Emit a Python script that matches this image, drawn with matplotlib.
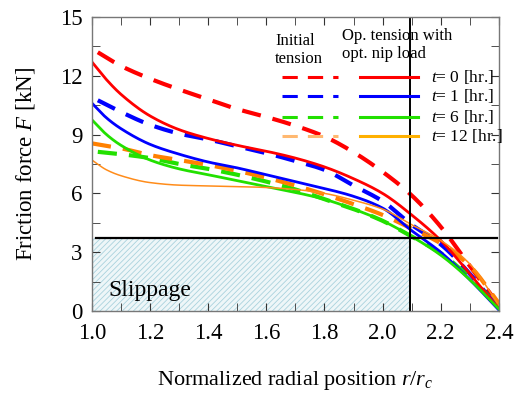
import numpy as np
import matplotlib
matplotlib.use('Agg')
import matplotlib.pyplot as plt
from matplotlib.patches import Rectangle
from matplotlib.ticker import MultipleLocator

plt.rcParams['font.family'] = ['Liberation Serif', 'DejaVu Serif']
plt.rcParams['mathtext.fontset'] = 'custom'
plt.rcParams['mathtext.it'] = 'Liberation Serif:italic'
plt.rcParams['mathtext.rm'] = 'Liberation Serif'
plt.rcParams['hatch.linewidth'] = 0.6

##################################################################
# Data
##################################################################
# initial tension (dashed)
x_init = [1.02, 1.1, 1.2, 1.3, 1.4, 1.5, 1.6, 1.7, 1.8, 1.9, 2.0, 2.1, 2.2, 2.3, 2.4]
init_t0 = [13.2, 12.5, 11.85, 11.3, 10.8, 10.3, 9.9, 9.45, 8.9, 8.1, 7.1, 5.9, 4.3, 2.3, 0.3]
init_t1 = [10.75, 10.15, 9.5, 9.05, 8.75, 8.4, 8.05, 7.65, 7.2, 6.4, 5.6, 4.4, 3.4, 1.9, 0.1]
init_t6 = [8.12, 8.0, 7.8, 7.5, 7.25, 6.95, 6.6, 6.2, 5.7, 5.2, 4.6, 3.8, 2.95, 1.7, 0.2]
x_init12 = [1.0, 1.1, 1.2, 1.3, 1.4, 1.5, 1.6, 1.7, 1.8, 1.9, 2.0, 2.1, 2.2, 2.3, 2.4]
init_t12 = [8.55, 8.3, 7.95, 7.7, 7.45, 7.15, 6.8, 6.4, 5.95, 5.45, 4.9, 4.2, 3.45, 2.3, 0.4]

# operating tension with optimum nip load (solid)
x_op = [1.0, 1.05, 1.1, 1.2, 1.3, 1.4, 1.5, 1.6, 1.7, 1.8, 1.9, 2.0, 2.1, 2.2, 2.3, 2.4]
op_t0 = [12.7, 11.8, 11.05, 9.95, 9.25, 8.8, 8.45, 8.15, 7.8, 7.35, 6.75, 6.0, 4.9, 3.6, 1.9, 0.1]
op_t1 = [10.6, 9.85, 9.3, 8.5, 8.0, 7.6, 7.3, 6.95, 6.6, 6.25, 5.85, 5.25, 4.1, 3.0, 1.6, 0.05]
op_t6 = [9.75, 9.0, 8.45, 7.7, 7.25, 6.95, 6.65, 6.35, 6.05, 5.7, 5.2, 4.6, 3.8, 2.85, 1.6, 0.1]
op_t12 = [7.7, 7.2, 6.9, 6.55, 6.42, 6.38, 6.35, 6.3, 6.2, 6.0, 5.65, 5.2, 4.4, 3.6, 2.4, 0.3]

slip_r = 2.094   # radial position where slippage limit is crossed
slip_F = 3.72    # slippage friction force limit [kN]

time_labels = ['0', '1', '6', '12']

def smooth(x, y, n=200):
    # monotone cubic (PCHIP-like) through the read points
    xs = np.linspace(x[0], x[-1], n)
    x = np.asarray(x, float); y = np.asarray(y, float)
    h = np.diff(x); d = np.diff(y) / h
    m = np.zeros_like(y)
    m[0] = d[0]; m[-1] = d[-1]
    for i in range(1, len(y) - 1):
        if d[i-1] * d[i] > 0:
            w1 = 2*h[i] + h[i-1]; w2 = h[i] + 2*h[i-1]
            m[i] = (w1 + w2) / (w1/d[i-1] + w2/d[i])
    idx = np.clip(np.searchsorted(x, xs) - 1, 0, len(x) - 2)
    t = (xs - x[idx]) / h[idx]
    h00 = 2*t**3 - 3*t**2 + 1; h10 = t**3 - 2*t**2 + t
    h01 = -2*t**3 + 3*t**2; h11 = t**3 - t**2
    ys = h00*y[idx] + h10*h[idx]*m[idx] + h01*y[idx+1] + h11*h[idx]*m[idx+1]
    return xs, ys

##################################################################
# Plot figure
##################################################################
fig = plt.figure(figsize=(5.18, 3.94), dpi=100)
ax = fig.add_axes([0.1776, 0.2107, 0.7854, 0.7462])

# slippage region
ax.add_patch(Rectangle((1.0, 0), slip_r - 1.0, slip_F, facecolor='#eef6f8',
                       edgecolor='#a9d2dd', hatch='//////', lw=0, zorder=0))
ax.text(1.055, 0.75, 'Slippage', fontsize=17, zorder=1)

dash = (0, (4.6, 2.9))
ax.plot(*smooth(x_init, init_t0), color='#ff0000', lw=3.0, ls=dash)
ax.plot(*smooth(x_init, init_t1), color='#0000ff', lw=3.0, ls=dash)
ax.plot(*smooth(x_init, init_t6), color='#22e000', lw=3.0, ls=dash)
ax.plot(*smooth(x_init12, init_t12), color='#ff8000', lw=3.0, ls=dash)

ax.plot(*smooth(x_op, op_t0), color='#ff0000', lw=2.0)
ax.plot(*smooth(x_op, op_t1), color='#0000ff', lw=2.0)
ax.plot(*smooth(x_op, op_t6), color='#22e000', lw=2.0)
ax.plot(*smooth(x_op, op_t12), color='#ff8c1a', lw=1.1)

ax.axhline(slip_F, xmin=0.01, xmax=0.995, color='black', lw=1.6)
ax.axvline(slip_r, color='black', lw=1.4)

# hand-made legend
ax.text(1.63, 12.45, 'Initial\ntension', fontsize=12, va='bottom', linespacing=1.15)
ax.text(1.86, 12.7, 'Op. tension with\nopt. nip load', fontsize=12, va='bottom', linespacing=1.15)
leg_cols_dash = ['#ff0000', '#0000ff', '#22e000', '#ffb870']
leg_cols_solid = ['#ff0000', '#0000ff', '#22e000', '#ffb000']
rows = [11.94, 10.97, 9.9, 8.93]
for c1, c2, yy, lab in zip(leg_cols_dash, leg_cols_solid, rows, time_labels):
    ax.plot([1.655, 1.845], [yy, yy], color=c1, lw=2.2, ls=(0, (5.0, 3.3)))
    ax.plot([1.922, 2.121], [yy, yy], color=c2, lw=2.2)
    ax.text(2.165, yy, r'$t$= ' + lab + ' [hr.]', fontsize=12.5, va='center')

ax.set_xlim(1.0, 2.4)
ax.set_ylim(0, 15)
ax.xaxis.set_major_locator(MultipleLocator(0.2))
ax.xaxis.set_minor_locator(MultipleLocator(0.1))
ax.yaxis.set_major_locator(MultipleLocator(3))
ax.yaxis.set_minor_locator(MultipleLocator(1.5))
ax.xaxis.set_major_formatter(plt.FuncFormatter(lambda v, p: '%.1f' % v))
ax.tick_params(which='both', direction='in', top=True, right=True, labelsize=16.5,
               colors='#333333', labelcolor='black')
ax.tick_params(axis='x', pad=9)
ax.tick_params(axis='y', pad=7)
ax.tick_params(which='both', length=6)
for s in ax.spines.values():
    s.set_color('#777777')
    s.set_linewidth(1.0)

ax.set_xlabel(r'Normalized radial position $r/r_c$', fontsize=16, labelpad=18)
ax.set_ylabel(r'Friction force $F$ [kN]', fontsize=16.5, labelpad=16)

plt.savefig('out.png', dpi=100)
